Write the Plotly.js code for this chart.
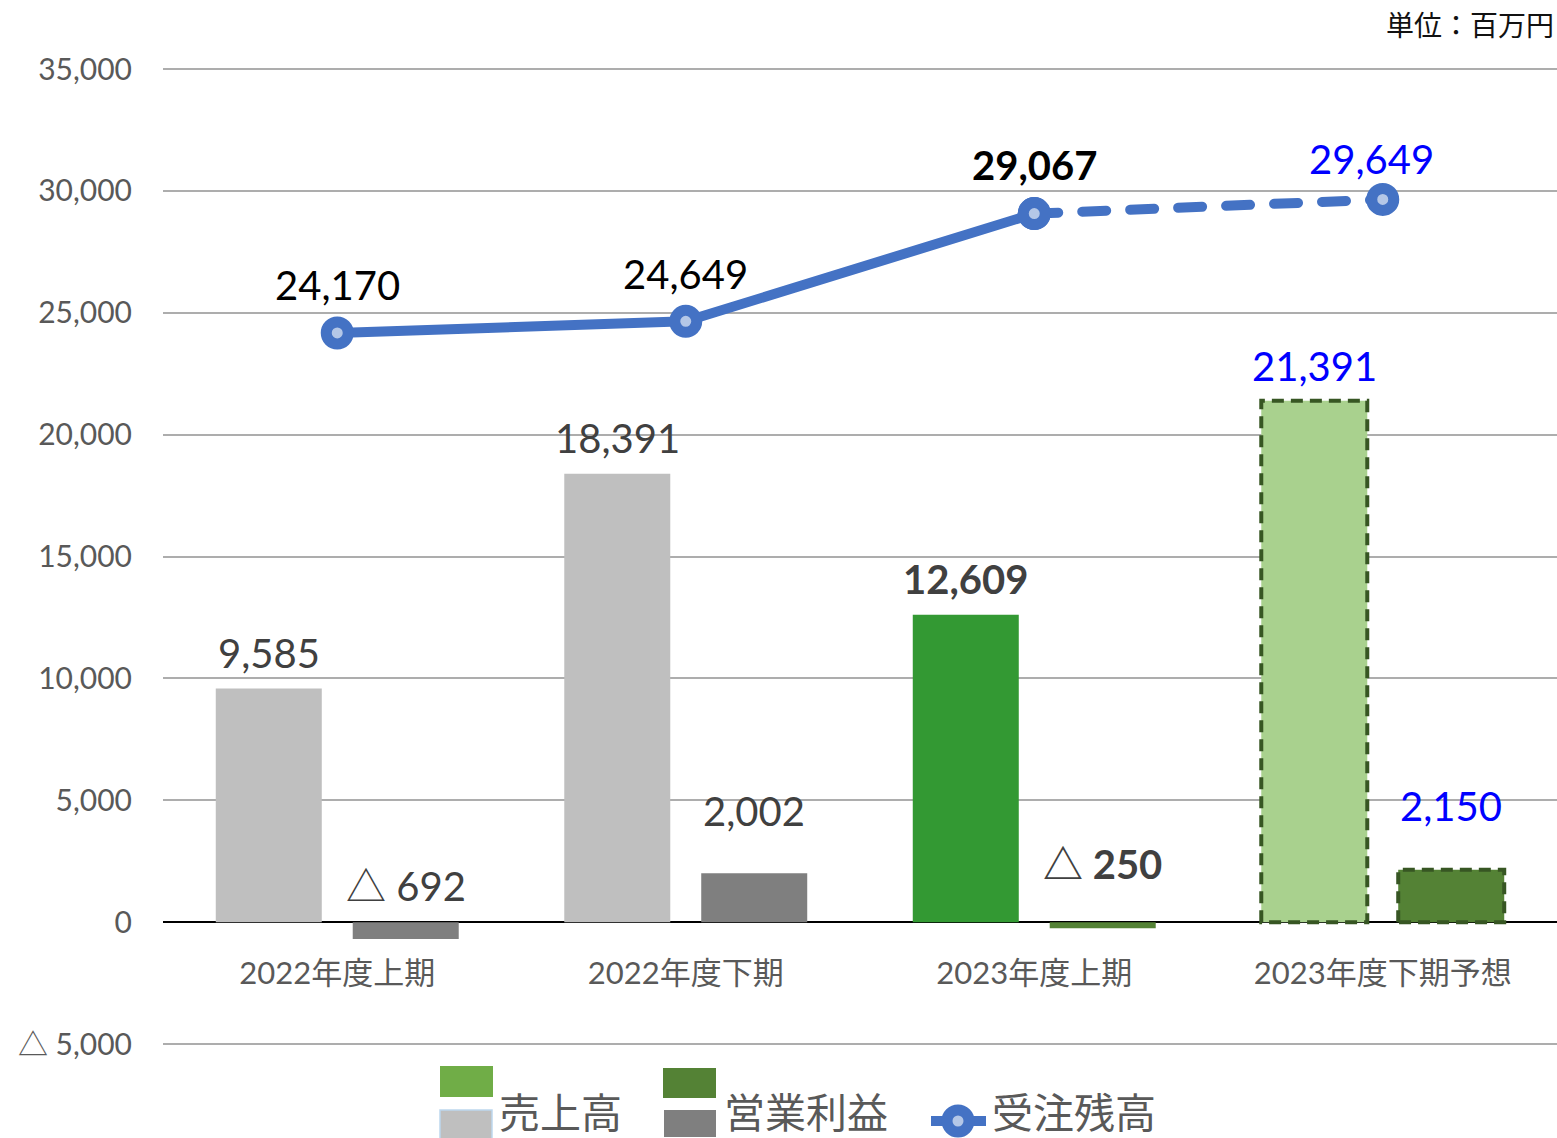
<!DOCTYPE html>
<html>
<head>
<meta charset="utf-8">
<script src="https://cdn.plot.ly/plotly-3.0.1.min.js"></script>
<style>
  html, body { margin: 0; padding: 0; background: #ffffff; }
  #chart { width: 1557px; height: 1138px; }
</style>
</head>
<body>
<div id="chart"></div>
<script>
// ---------- data ----------
const categories = ['2022年度上期', '2022年度下期', '2023年度上期', '2023年度下期予想'];
const sales = [9585, 18391, 12609, 21391];
const operatingProfit = [-692, 2002, -250, 2150];
const orderBacklog = [24170, 24649, 29067, 29649];
const yTickVals = [-5000, 0, 5000, 10000, 15000, 20000, 25000, 30000, 35000];
const yTickText = ['△ 5,000', '0', '5,000', '10,000', '15,000', '20,000', '25,000', '30,000', '35,000'];
const seriesNames = ['売上高', '営業利益', '受注残高'];
const unitLabel = '単位：百万円';

// ---------- styles ----------
const FONT = 'Lato, "Noto Sans CJK JP", "Noto Sans", sans-serif';
const salesColors = ['#BFBFBF', '#BFBFBF', '#339933', '#A9D18E'];
const profitColors = ['#7F7F7F', '#7F7F7F', '#548235', '#548235'];
const forecastBorder = '#375623';
const borderWidths = [0, 0, 0, 4];
const lineColor = '#4472C4';
const markerFill = '#B4C7E7';
const salesLabelStyle = [['#404040', false], ['#404040', false], ['#404040', true], ['#0000FF', false]];
const profitLabelStyle = [['#404040', false], ['#404040', false], ['#404040', true], ['#0000FF', false]];
const backlogLabelStyle = [['#000000', false], ['#000000', false], ['#000000', true], ['#0000FF', false]];
const salesLabelLift = [35, 36, 36, 35];
const profitLabelLift = [36, 62, 58, 64];
const backlogLabelLift = [48, 47, 49, 40];
const backlogLabelNudge = [0, 0, 0, -11];

// ---------- geometry ----------
const W = 1557, H = 1138, ML = 163, MR = 0, MT = 67, MB = 92;
const plotW = W - ML - MR, plotH = H - MT - MB;
const BARGAP = 0.214, BARGROUPGAP = 0.226;
const barOffset = (plotW / categories.length) * (1 - BARGAP) / 4;
const px2x = x => (x - ML) / plotW;
const px2y = y => (H - MB - y) / plotH;

function fmt(v) {
  const s = Math.abs(v).toLocaleString('en-US');
  return v < 0 ? '△ ' + s : s;
}
function styled(text, st) {
  return st[1] ? '<b>' + text + '</b>' : text;
}

// ---------- traces ----------
const salesTrace = {
  type: 'bar', name: seriesNames[0], x: categories, y: sales,
  marker: { color: salesColors, line: { color: forecastBorder, width: borderWidths } },
  hoverinfo: 'x+y', showlegend: false
};
const profitTrace = {
  type: 'bar', name: seriesNames[1], x: categories, y: operatingProfit,
  marker: { color: profitColors, line: { color: forecastBorder, width: borderWidths } },
  hoverinfo: 'x+y', showlegend: false
};
const backlogForecast = {
  type: 'scatter', mode: 'lines+markers', name: seriesNames[2],
  x: categories.slice(2), y: orderBacklog.slice(2),
  line: { color: lineColor, width: 10, dash: '24px,24px' },
  marker: { size: 22, color: markerFill, line: { color: lineColor, width: 11 } },
  showlegend: false
};
const backlogActual = {
  type: 'scatter', mode: 'lines+markers', name: seriesNames[2],
  x: categories.slice(0, 3), y: orderBacklog.slice(0, 3),
  line: { color: lineColor, width: 10 },
  marker: { size: 22, color: markerFill, line: { color: lineColor, width: 11 } },
  showlegend: false
};

// ---------- data labels ----------
const annotations = [];
categories.forEach((c, i) => {
  annotations.push({
    xref: 'x', yref: 'y', x: c, y: Math.max(sales[i], 0), xshift: -barOffset, yshift: salesLabelLift[i],
    yanchor: 'middle', showarrow: false, text: styled(fmt(sales[i]), salesLabelStyle[i]),
    font: { family: FONT, size: 40, color: salesLabelStyle[i][0] }
  });
  annotations.push({
    xref: 'x', yref: 'y', x: c, y: Math.max(operatingProfit[i], 0), xshift: barOffset, yshift: profitLabelLift[i],
    yanchor: 'middle', showarrow: false, text: styled(fmt(operatingProfit[i]), profitLabelStyle[i]),
    font: { family: FONT, size: 40, color: profitLabelStyle[i][0] }
  });
  annotations.push({
    xref: 'x', yref: 'y', x: c, y: orderBacklog[i], xshift: backlogLabelNudge[i], yshift: backlogLabelLift[i],
    yanchor: 'middle', showarrow: false, text: styled(fmt(orderBacklog[i]), backlogLabelStyle[i]),
    font: { family: FONT, size: 40, color: backlogLabelStyle[i][0] }
  });
});

// unit label
annotations.push({
  xref: 'paper', yref: 'paper', x: px2x(1556), y: px2y(25), xanchor: 'right', yanchor: 'middle',
  showarrow: false, text: unitLabel, font: { family: FONT, size: 28, color: '#111111' }
});

// ---------- custom legend ----------
const shapes = [];
function rectPx(x0, y0, x1, y1, fill, lc, lw) {
  shapes.push({ type: 'rect', xref: 'paper', yref: 'paper', x0: px2x(x0), x1: px2x(x1), y0: px2y(y1), y1: px2y(y0),
    fillcolor: fill, line: { color: lc || fill, width: lw || 0 } });
}
rectPx(440, 1066, 493, 1097, '#70AD47');
rectPx(440, 1110, 492, 1140, '#BFBFBF', '#BDD7EE', 1.5);
rectPx(663, 1068, 716, 1098, '#548235');
rectPx(664, 1110, 716, 1137, '#7F7F7F');
shapes.push({ type: 'line', xref: 'paper', yref: 'paper', x0: px2x(931), x1: px2x(986), y0: px2y(1121), y1: px2y(1121),
  line: { color: lineColor, width: 10 } });
shapes.push({ type: 'circle', xref: 'paper', yref: 'paper', x0: px2x(947), x1: px2x(969), y0: px2y(1132), y1: px2y(1110),
  fillcolor: markerFill, line: { color: lineColor, width: 11 } });
const legendX = [497, 722, 990];
seriesNames.forEach((n, i) => {
  annotations.push({ xref: 'paper', yref: 'paper', x: px2x(legendX[i]), y: px2y(1112), xanchor: 'left', yanchor: 'middle',
    showarrow: false, text: n, font: { family: FONT, size: 41, color: '#595959' } });
});

// ---------- layout ----------
const layout = {
  width: W, height: H,
  margin: { l: ML, r: MR, t: MT, b: MB, pad: 0 },
  paper_bgcolor: '#ffffff', plot_bgcolor: '#ffffff',
  font: { family: FONT, color: '#595959' },
  barmode: 'group', bargap: BARGAP, bargroupgap: BARGROUPGAP,
  showlegend: false,
  xaxis: {
    type: 'category', anchor: 'free', position: px2y(922),
    showgrid: false, showline: false, zeroline: false, ticks: '',
    ticklabelstandoff: 30,
    tickfont: { family: FONT, size: 31, color: '#595959' }
  },
  yaxis: {
    range: [-5082, 35082], tickmode: 'array', tickvals: yTickVals, ticktext: yTickText,
    showgrid: true, gridcolor: '#ADADAD', gridwidth: 2,
    zeroline: true, zerolinecolor: '#000000', zerolinewidth: 2,
    showline: false, ticks: '', ticklabelstandoff: 30,
    tickfont: { family: FONT, size: 30, color: '#595959' }
  },
  annotations: annotations,
  shapes: shapes
};

Plotly.newPlot('chart', [salesTrace, profitTrace, backlogForecast, backlogActual], layout, { displayModeBar: false, staticPlot: true })
  .then(gd => {
    // dashed outline for forecast bars
    gd.querySelectorAll('.barlayer .trace').forEach(tr => {
      const pts = tr.querySelectorAll('.point path');
      const last = pts[pts.length - 1];
      if (last) last.style.strokeDasharray = '12px,7px';
    });
    gd.querySelectorAll('.scatterlayer .js-line').forEach(p => {
      p.style.strokeLinecap = 'round';
      p.style.strokeLinejoin = 'round';
    });
  });
</script>
</body>
</html>
